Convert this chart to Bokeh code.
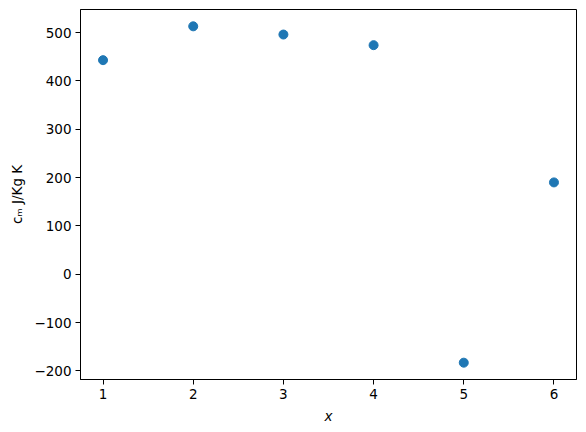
from bokeh.plotting import figure
from bokeh.models import FixedTicker, Range1d
from bokeh.embed import file_html
from bokeh.resources import INLINE

x_vals = [1, 2, 3, 4, 5, 6]
cm_vals = [443, 513, 496, 474, -183, 190]
x_ticks = [1, 2, 3, 4, 5, 6]
y_ticks = [-200, -100, 0, 100, 200, 300, 400, 500]

p = figure(width=586, height=432, output_backend="svg", toolbar_location=None,
           x_range=Range1d(0.75, 6.25), y_range=Range1d(-217.8, 547.8),
           min_border_left=80, min_border_right=10, min_border_top=9, min_border_bottom=53)

p.scatter(x_vals, cm_vals, size=9, color="#1f77b4", line_color="#1f77b4")

p.xgrid.visible = False
p.ygrid.visible = False
p.outline_line_color = "black"
p.outline_line_width = 1
p.outline_line_alpha = 1

p.xaxis.ticker = FixedTicker(ticks=x_ticks)
p.yaxis.ticker = FixedTicker(ticks=y_ticks)

for ax in (p.xaxis[0], p.yaxis[0]):
    ax.axis_line_color = "black"
    ax.major_tick_line_color = "black"
    ax.major_tick_in = 0
    ax.major_tick_out = 5
    ax.minor_tick_line_color = None
    ax.major_label_text_font = "DejaVu Sans"
    ax.major_label_text_font_size = "13.5px"
    ax.major_label_text_color = "black"
    ax.axis_label_text_font = "DejaVu Sans"
    ax.axis_label_text_font_size = "13.5px"
    ax.axis_label_text_color = "black"

p.xaxis.axis_label = "x"
p.xaxis.axis_label_text_font_style = "italic"
p.xaxis.axis_label_standoff = 6
p.yaxis.axis_label = "cₘ J/Kg K"
p.yaxis.axis_label_text_font_style = "normal"
p.yaxis.axis_label_standoff = 6
p.yaxis.major_label_standoff = 4
p.xaxis.major_label_standoff = 4

open("out.html", "w").write(file_html(p, INLINE))
